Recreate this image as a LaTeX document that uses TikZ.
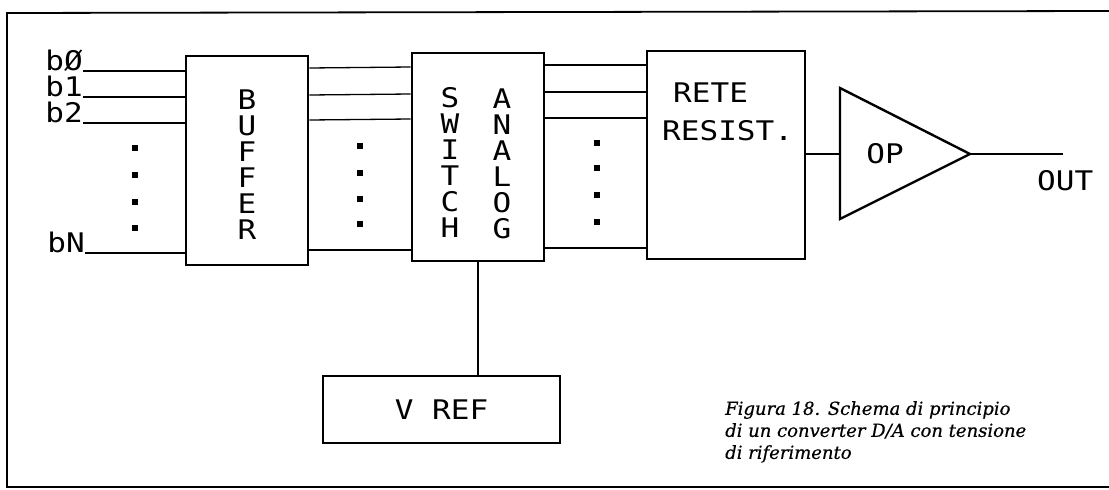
\documentclass[tikz,border=0pt]{standalone}
\usepackage{fontspec}
\setmonofont[FakeStretch=1.15]{DejaVu Sans Mono}
\newfontfamily\capfont[ItalicFeatures={FakeBold=0.5}]{DejaVu Serif}
\begin{document}
\begin{tikzpicture}[x=1pt,y=-1pt,
  blk/.style={draw, line width=2.7pt, rectangle, inner sep=0pt},
  wire/.style={line width=1.3pt},
  lbl/.style={font=\ttfamily\fontsize{27}{26}\selectfont, inner sep=0pt},
  vlbl/.style={lbl, align=center},
  dotsq/.style={fill, minimum size=6.5pt, inner sep=0pt, rectangle}]
\useasboundingbox (0,0) rectangle (1109,490);
% frame
\coordinate (fTR) at (1109,11);
\coordinate (fTL) at (7,13);
\coordinate (fBL) at (7,487);
\coordinate (fBR) at (1109,487);
\draw[line width=1.8pt] (fTR) -- (fTL) -- (fBL) -- (fBR);
% blocks
\node[blk, minimum width=122pt, minimum height=209pt] (buf) at (247,160.5) {};
\node[blk, minimum width=132pt, minimum height=208pt] (sw) at (478,157) {};
\node[blk, minimum width=158pt, minimum height=208pt] (rete) at (726,155) {};
\node[blk, minimum width=237pt, minimum height=67pt, font=\ttfamily\fontsize{27}{26}\selectfont] (vref) at (441.5,409.5) {V REF};
% block texts
\node[vlbl] (tbuf) at (247,165) {B\\U\\F\\F\\E\\R};
\node[vlbl] (tsw) at (450,162) {S\\W\\I\\T\\C\\H};
\node[vlbl] (tan) at (502,164) {A\\N\\A\\L\\O\\G};
\node[lbl, anchor=base west] (trete) at (673,102) {RETE};
\node[lbl, anchor=base west] (tres) at (662,140) {RESIST.};
% op amp
\coordinate (opT) at (840,88);
\coordinate (opB) at (840,219);
\coordinate (opout) at (970,154);
\coordinate (opin) at (840,154);
\draw[line width=2.4pt, line join=miter] (opT) -- (opout) -- (opB) -- cycle;
\node[lbl] (top) at (885,154) {OP};
\coordinate (outend) at (1063,154);
\node[lbl, anchor=base west] (tout) at (1037,190) {OUT};
% input labels
\node[lbl, anchor=base east] (l0) at (83,70) {bØ};
\node[lbl, anchor=base east] (l1) at (83,96) {b1};
\node[lbl, anchor=base east] (l2) at (83,122) {b2};
\node[lbl, anchor=base east] (lN) at (85,252) {bN};
% input wires
\draw[wire] (l0.base east) ++(0,1) -- (buf.west |- 0,71);
\draw[wire] (l1.base east) ++(0,1) -- (buf.west |- 0,97);
\draw[wire] (l2.base east) ++(0,1) -- (buf.west |- 0,123);
\draw[wire] (lN.base east) ++(0,1) -- (buf.west |- 0,253);
% buffer -> switch
\draw[wire] (buf.east |- 0,68) -- (sw.west |- 0,67);
\draw[wire] (buf.east |- 0,95) -- (sw.west |- 0,94);
\draw[wire] (buf.east |- 0,120) -- (sw.west |- 0,119);
\draw[wire] (buf.east |- 0,250) -- (sw.west |- 0,250);
% switch -> rete
\draw[wire] (sw.east |- 0,65) -- (rete.west |- 0,65);
\draw[wire] (sw.east |- 0,92) -- (rete.west |- 0,92);
\draw[wire] (sw.east |- 0,118) -- (rete.west |- 0,118);
\draw[wire] (sw.east |- 0,248) -- (rete.west |- 0,248);
% rete -> op -> out
\draw[wire] (rete.east |- opin) -- (opin);
\draw[wire] (opout) -- (outend);
% switch -> vref
\draw[wire] (sw.south) -- (sw.south |- vref.north);
% dots
\node[dotsq] (da1) at (135,148) {};
\node[dotsq] (da2) at (135,175) {};
\node[dotsq] (da3) at (135,202) {};
\node[dotsq] (da4) at (135,228) {};
\node[dotsq] (db1) at (360,146) {};
\node[dotsq] (db2) at (360,173) {};
\node[dotsq] (db3) at (360,199) {};
\node[dotsq] (db4) at (360,224) {};
\node[dotsq] (dc1) at (597,143) {};
\node[dotsq] (dc2) at (597,168) {};
\node[dotsq] (dc3) at (597,195) {};
\node[dotsq] (dc4) at (597,222) {};
% caption
\node[anchor=north west, align=left, inner sep=0pt, font=\capfont\itshape\fontsize{18}{22}\selectfont] (cap) at (725,401)
  {Figura 18. Schema di principio\\di un converter D/A con tensione\\di riferimento};
\end{tikzpicture}
\end{document}
